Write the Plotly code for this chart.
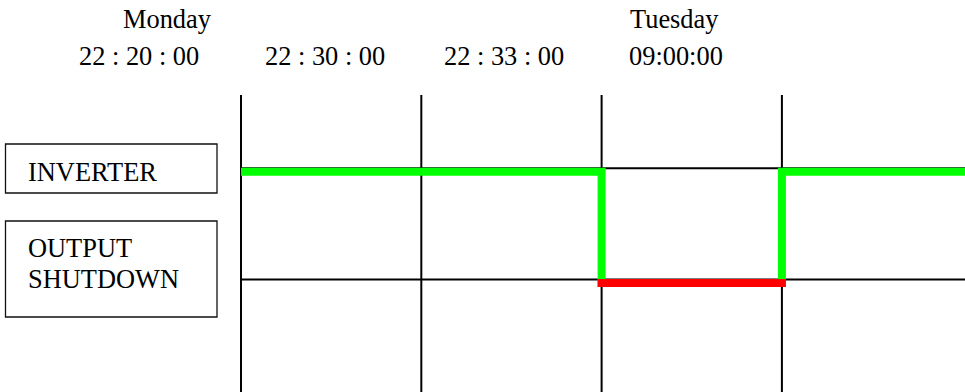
import plotly.graph_objects as go

# ---------------- data ----------------
day_labels = ["Monday", "Tuesday"]
time_labels = ["22 : 20 : 00", "22 : 30 : 00", "22 : 33 : 00", "09:00:00"]
state_labels = [["INVERTER"], ["OUTPUT", "SHUTDOWN"]]
grid_x = [1, 2, 3, 4]              # vertical divisions of the time line
state_levels = [1, 0]              # 1 = INVERTER, 0 = OUTPUT SHUTDOWN
signal_x = [1, 2, 3, 4, 5.05]      # step signal (hv)
signal_level = [1, 1, 0, 1, 1]
shutdown_x = [3, 4]
shutdown_level = [0, 0]

W, H = 965, 392
FONT = "Liberation Serif"
FS = 26.4

def px(x):
    return x / W

def py(y):
    return 1 - y / H

fig = go.Figure()

# step signal (green)
fig.add_trace(go.Scatter(x=signal_x, y=signal_level, mode="lines",
                         line=dict(color="#00FF00", width=8, shape="hv"),
                         hoverinfo="skip", showlegend=False))
# shutdown segment (red)
fig.add_trace(go.Scatter(x=shutdown_x, y=shutdown_level, mode="lines",
                         line=dict(color="#FF0000", width=8),
                         hoverinfo="skip", showlegend=False))

shapes = []
# vertical grid lines
for gx in grid_x:
    shapes.append(dict(type="line", xref="x", yref="y", x0=gx, x1=gx,
                       y0=-1.2, y1=1.689, line=dict(color="black", width=2),
                       layer="below"))
# horizontal level lines
for lv in state_levels:
    shapes.append(dict(type="line", xref="x", yref="y", x0=grid_x[0], x1=5.2,
                       y0=lv + 0.031, y1=lv + 0.031,
                       line=dict(color="black", width=2), layer="below"))

# label boxes
box_y = [(144, 193), (221, 317)]
for (y0, y1) in box_y:
    shapes.append(dict(type="rect", xref="paper", yref="paper",
                       x0=px(5.5), x1=px(217), y0=py(y1), y1=py(y0),
                       line=dict(color="#111", width=1.3), fillcolor="rgba(0,0,0,0)"))

annotations = []
def text(t, x_left, baseline):
    annotations.append(dict(text=t, xref="paper", yref="paper",
                            x=px(x_left - 1), y=py(baseline - 0.338 * FS),
                            xanchor="left", yanchor="middle", showarrow=False,
                            font=dict(family=FONT, size=FS, color="black")))

day_pos = [121.5, 628.5]
for lbl, x in zip(day_labels, day_pos):
    text(lbl, x, 28)

time_pos = [78.3, 264.3, 443.3, 628.3]
for lbl, x in zip(time_labels, time_pos):
    text(lbl, x, 65)

state_base = [[181], [256.7, 288.3]]
for lines, bases in zip(state_labels, state_base):
    for ln, b in zip(lines, bases):
        text(ln, 26.7, b)

fig.update_layout(
    width=W, height=H, margin=dict(l=0, r=0, t=0, b=0),
    paper_bgcolor="white", plot_bgcolor="white",
    font=dict(family=FONT),
    xaxis=dict(range=[-0.3367, 5.0155], visible=False, fixedrange=True),
    yaxis=dict(range=[-0.9793, 2.5427], visible=False, fixedrange=True),
    shapes=shapes, annotations=annotations, showlegend=False,
)

post = """
document.body.style.margin = '0';
document.body.style.padding = '0';
var p = document.querySelectorAll('.scatterlayer .trace path.js-line');
if (p.length > 1) { p[1].style.strokeLinecap = 'square'; }
if (p.length > 0) { p[0].style.strokeLinejoin = 'miter'; }
"""
fig.write_html("out.html", config={"displayModeBar": False}, post_script=post)
